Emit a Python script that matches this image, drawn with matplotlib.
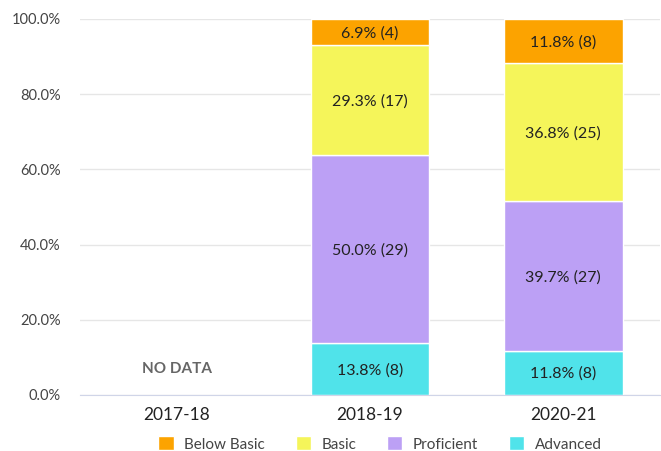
import matplotlib.pyplot as plt
import numpy as np

plt.rcParams['font.family'] = ['Lato', 'DejaVu Sans']

# Data
years = ["2017-18", "2018-19", "2020-21"]
levels = ["Advanced", "Proficient", "Basic", "Below Basic"]
colors = ["#50e3ea", "#bca0f5", "#f5f55a", "#fca300"]
advanced = [0, 8, 8]
proficient = [0, 29, 27]
basic = [0, 17, 25]
below_basic = [0, 4, 8]

counts = np.array([advanced, proficient, basic, below_basic], dtype=float)
totals = counts.sum(axis=0)
pcts = np.divide(counts, totals, out=np.zeros_like(counts), where=totals > 0) * 100

fig = plt.figure(figsize=(6.61, 4.51), dpi=100)
ax = fig.add_axes([80 / 661, 1 - 395 / 451, 580 / 661, 376 / 451])

x = np.arange(len(years))
bottom = np.zeros(len(years))
bars = []
for i, lvl in enumerate(levels):
    b = ax.bar(x, pcts[i], 0.615, bottom=bottom, color=colors[i],
               edgecolor="white", linewidth=1, label=lvl, zorder=3)
    bars.append(b)
    for j in range(len(years)):
        if counts[i, j] > 0:
            ax.text(x[j], bottom[j] + pcts[i, j] / 2 - 0.3,
                    f"{pcts[i, j]:.1f}% ({int(counts[i, j])})",
                    ha="center", va="center", fontsize=11.5, color="#222222", zorder=4)
    bottom += pcts[i]

ax.text(0, 7.0, "NO DATA", ha="center", va="center", fontsize=11,
        fontweight="bold", color="#666666")

ax.set_xlim(-0.5, 2.5)
ax.set_ylim(0, 100)
ax.set_yticks(np.arange(0, 101, 20))
ax.set_yticklabels([f"{v:.1f}%" for v in np.arange(0, 101, 20)])
ax.set_xticks(x)
ax.set_xticklabels(years, fontsize=12.5, color="#222222")
ax.tick_params(axis="y", labelsize=10.5, labelcolor="#444444", length=0, pad=14)
ax.tick_params(axis="x", length=0, pad=9)
ax.grid(axis="y", color="#e6e6e6", linewidth=1, zorder=0)
for s in ["top", "right", "left"]:
    ax.spines[s].set_visible(False)
ax.spines["bottom"].set_color("#d0d5e8")
ax.spines["bottom"].set_zorder(5)

handles = [bars[3], bars[2], bars[1], bars[0]]
leg = fig.legend(handles, [levels[3], levels[2], levels[1], levels[0]],
                 loc="center", bbox_to_anchor=(380 / 661, 1 - 444 / 451),
                 ncol=4, frameon=False, fontsize=11, handlelength=1.0,
                 handleheight=1.0, handletextpad=0.7, columnspacing=2.0)
for t in leg.get_texts():
    t.set_color("#444444")

fig.savefig("out.png", dpi=100)
